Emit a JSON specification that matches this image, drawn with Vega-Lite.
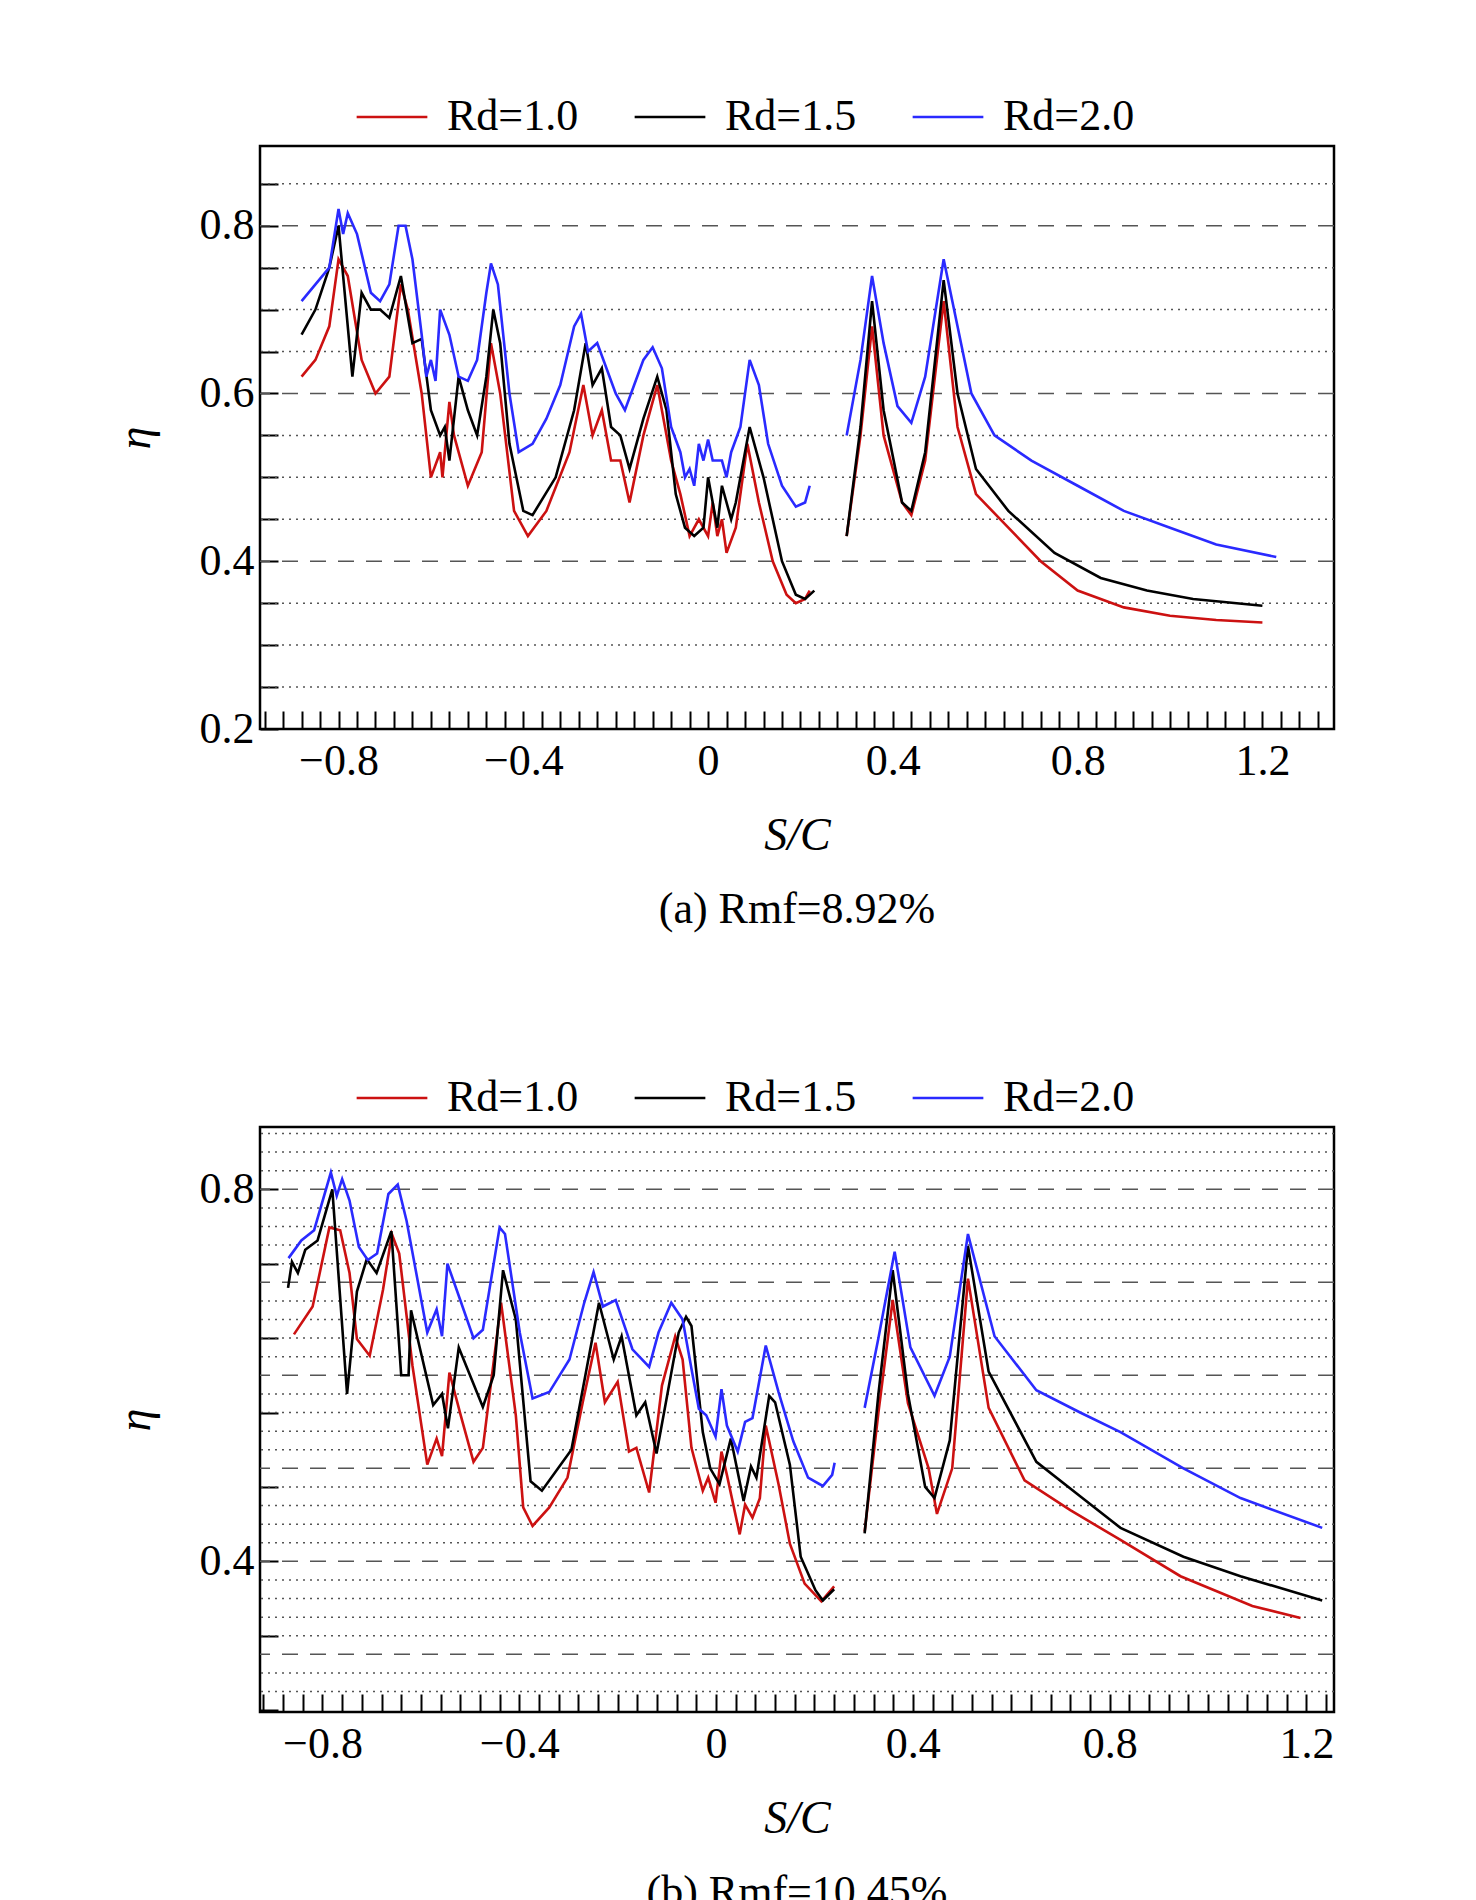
{
  "$schema": "https://vega.github.io/schema/vega-lite/v6.json",
  "background": "white",
  "padding": {"left": 110, "top": 78, "right": 10, "bottom": 5},
  "config": {
    "font": "Liberation Serif",
    "view": {"stroke": "black", "strokeWidth": 2.5},
    "axis": {"labelFont": "Liberation Serif", "titleFont": "Liberation Serif", "labelFontSize": 44, "titleFontSize": 46, "titleFontWeight": "normal", "titleFontStyle": "italic", "labelColor": "black", "titleColor": "black", "domain": false, "grid": false, "tickColor": "black", "tickWidth": 2},
    "legend": {"labelFont": "Liberation Serif", "labelFontSize": 44, "labelColor": "black", "symbolType": "stroke", "symbolSize": 5000, "symbolStrokeWidth": 2.5, "columnPadding": 50, "labelOffset": 18},
    "title": {"font": "Liberation Serif", "fontSize": 44, "fontWeight": "normal", "color": "black"}
  },
  "datasets": {
    "curves": [
      {"p":"a","s":"1.0","k":1,"x":-0.88,"y":0.62},{"p":"a","s":"1.0","k":1,"x":-0.85,"y":0.64},{"p":"a","s":"1.0","k":1,"x":-0.82,"y":0.68},{"p":"a","s":"1.0","k":1,"x":-0.8,"y":0.76},{"p":"a","s":"1.0","k":1,"x":-0.78,"y":0.74},{"p":"a","s":"1.0","k":1,"x":-0.75,"y":0.64},{"p":"a","s":"1.0","k":1,"x":-0.72,"y":0.6},{"p":"a","s":"1.0","k":1,"x":-0.69,"y":0.62},{"p":"a","s":"1.0","k":1,"x":-0.665,"y":0.73},{"p":"a","s":"1.0","k":1,"x":-0.65,"y":0.7},{"p":"a","s":"1.0","k":1,"x":-0.62,"y":0.6},{"p":"a","s":"1.0","k":1,"x":-0.6,"y":0.5},{"p":"a","s":"1.0","k":1,"x":-0.58,"y":0.53},{"p":"a","s":"1.0","k":1,"x":-0.575,"y":0.5},{"p":"a","s":"1.0","k":1,"x":-0.56,"y":0.59},{"p":"a","s":"1.0","k":1,"x":-0.55,"y":0.55},{"p":"a","s":"1.0","k":1,"x":-0.52,"y":0.49},{"p":"a","s":"1.0","k":1,"x":-0.49,"y":0.53},{"p":"a","s":"1.0","k":1,"x":-0.47,"y":0.66},{"p":"a","s":"1.0","k":1,"x":-0.45,"y":0.6},{"p":"a","s":"1.0","k":1,"x":-0.42,"y":0.46},{"p":"a","s":"1.0","k":1,"x":-0.39,"y":0.43},{"p":"a","s":"1.0","k":1,"x":-0.35,"y":0.46},{"p":"a","s":"1.0","k":1,"x":-0.3,"y":0.53},{"p":"a","s":"1.0","k":1,"x":-0.27,"y":0.61},{"p":"a","s":"1.0","k":1,"x":-0.25,"y":0.55},{"p":"a","s":"1.0","k":1,"x":-0.23,"y":0.58},{"p":"a","s":"1.0","k":1,"x":-0.21,"y":0.52},{"p":"a","s":"1.0","k":1,"x":-0.19,"y":0.52},{"p":"a","s":"1.0","k":1,"x":-0.17,"y":0.47},{"p":"a","s":"1.0","k":1,"x":-0.14,"y":0.55},{"p":"a","s":"1.0","k":1,"x":-0.11,"y":0.61},{"p":"a","s":"1.0","k":1,"x":-0.08,"y":0.52},{"p":"a","s":"1.0","k":1,"x":-0.06,"y":0.48},{"p":"a","s":"1.0","k":1,"x":-0.04,"y":0.43},{"p":"a","s":"1.0","k":1,"x":-0.02,"y":0.45},{"p":"a","s":"1.0","k":1,"x":0.0,"y":0.43},{"p":"a","s":"1.0","k":1,"x":0.01,"y":0.47},{"p":"a","s":"1.0","k":1,"x":0.02,"y":0.43},{"p":"a","s":"1.0","k":1,"x":0.03,"y":0.45},{"p":"a","s":"1.0","k":1,"x":0.04,"y":0.41},{"p":"a","s":"1.0","k":1,"x":0.06,"y":0.44},{"p":"a","s":"1.0","k":1,"x":0.085,"y":0.54},{"p":"a","s":"1.0","k":1,"x":0.11,"y":0.47},{"p":"a","s":"1.0","k":1,"x":0.14,"y":0.4},{"p":"a","s":"1.0","k":1,"x":0.17,"y":0.36},{"p":"a","s":"1.0","k":1,"x":0.19,"y":0.35},{"p":"a","s":"1.0","k":1,"x":0.21,"y":0.355},{"p":"a","s":"1.0","k":1,"x":0.22,"y":0.365},
      {"p":"a","s":"1.0","k":2,"x":0.3,"y":0.43},{"p":"a","s":"1.0","k":2,"x":0.33,"y":0.55},{"p":"a","s":"1.0","k":2,"x":0.355,"y":0.68},{"p":"a","s":"1.0","k":2,"x":0.38,"y":0.55},{"p":"a","s":"1.0","k":2,"x":0.42,"y":0.47},{"p":"a","s":"1.0","k":2,"x":0.44,"y":0.455},{"p":"a","s":"1.0","k":2,"x":0.47,"y":0.52},{"p":"a","s":"1.0","k":2,"x":0.51,"y":0.71},{"p":"a","s":"1.0","k":2,"x":0.54,"y":0.56},{"p":"a","s":"1.0","k":2,"x":0.58,"y":0.48},{"p":"a","s":"1.0","k":2,"x":0.65,"y":0.44},{"p":"a","s":"1.0","k":2,"x":0.72,"y":0.4},{"p":"a","s":"1.0","k":2,"x":0.8,"y":0.365},{"p":"a","s":"1.0","k":2,"x":0.9,"y":0.345},{"p":"a","s":"1.0","k":2,"x":1.0,"y":0.335},{"p":"a","s":"1.0","k":2,"x":1.1,"y":0.33},{"p":"a","s":"1.0","k":2,"x":1.2,"y":0.327},
      {"p":"a","s":"1.5","k":1,"x":-0.88,"y":0.67},{"p":"a","s":"1.5","k":1,"x":-0.85,"y":0.7},{"p":"a","s":"1.5","k":1,"x":-0.82,"y":0.75},{"p":"a","s":"1.5","k":1,"x":-0.8,"y":0.8},{"p":"a","s":"1.5","k":1,"x":-0.79,"y":0.74},{"p":"a","s":"1.5","k":1,"x":-0.77,"y":0.62},{"p":"a","s":"1.5","k":1,"x":-0.75,"y":0.72},{"p":"a","s":"1.5","k":1,"x":-0.73,"y":0.7},{"p":"a","s":"1.5","k":1,"x":-0.71,"y":0.7},{"p":"a","s":"1.5","k":1,"x":-0.69,"y":0.69},{"p":"a","s":"1.5","k":1,"x":-0.665,"y":0.74},{"p":"a","s":"1.5","k":1,"x":-0.64,"y":0.66},{"p":"a","s":"1.5","k":1,"x":-0.62,"y":0.665},{"p":"a","s":"1.5","k":1,"x":-0.6,"y":0.58},{"p":"a","s":"1.5","k":1,"x":-0.58,"y":0.55},{"p":"a","s":"1.5","k":1,"x":-0.57,"y":0.56},{"p":"a","s":"1.5","k":1,"x":-0.56,"y":0.52},{"p":"a","s":"1.5","k":1,"x":-0.54,"y":0.62},{"p":"a","s":"1.5","k":1,"x":-0.52,"y":0.58},{"p":"a","s":"1.5","k":1,"x":-0.5,"y":0.55},{"p":"a","s":"1.5","k":1,"x":-0.48,"y":0.62},{"p":"a","s":"1.5","k":1,"x":-0.465,"y":0.7},{"p":"a","s":"1.5","k":1,"x":-0.45,"y":0.66},{"p":"a","s":"1.5","k":1,"x":-0.43,"y":0.54},{"p":"a","s":"1.5","k":1,"x":-0.4,"y":0.46},{"p":"a","s":"1.5","k":1,"x":-0.38,"y":0.455},{"p":"a","s":"1.5","k":1,"x":-0.33,"y":0.5},{"p":"a","s":"1.5","k":1,"x":-0.29,"y":0.58},{"p":"a","s":"1.5","k":1,"x":-0.265,"y":0.66},{"p":"a","s":"1.5","k":1,"x":-0.25,"y":0.61},{"p":"a","s":"1.5","k":1,"x":-0.23,"y":0.63},{"p":"a","s":"1.5","k":1,"x":-0.21,"y":0.56},{"p":"a","s":"1.5","k":1,"x":-0.19,"y":0.55},{"p":"a","s":"1.5","k":1,"x":-0.17,"y":0.51},{"p":"a","s":"1.5","k":1,"x":-0.14,"y":0.57},{"p":"a","s":"1.5","k":1,"x":-0.11,"y":0.62},{"p":"a","s":"1.5","k":1,"x":-0.09,"y":0.58},{"p":"a","s":"1.5","k":1,"x":-0.07,"y":0.48},{"p":"a","s":"1.5","k":1,"x":-0.05,"y":0.44},{"p":"a","s":"1.5","k":1,"x":-0.03,"y":0.43},{"p":"a","s":"1.5","k":1,"x":-0.01,"y":0.44},{"p":"a","s":"1.5","k":1,"x":0.0,"y":0.5},{"p":"a","s":"1.5","k":1,"x":0.02,"y":0.44},{"p":"a","s":"1.5","k":1,"x":0.03,"y":0.49},{"p":"a","s":"1.5","k":1,"x":0.05,"y":0.45},{"p":"a","s":"1.5","k":1,"x":0.06,"y":0.47},{"p":"a","s":"1.5","k":1,"x":0.09,"y":0.56},{"p":"a","s":"1.5","k":1,"x":0.12,"y":0.5},{"p":"a","s":"1.5","k":1,"x":0.16,"y":0.4},{"p":"a","s":"1.5","k":1,"x":0.19,"y":0.36},{"p":"a","s":"1.5","k":1,"x":0.21,"y":0.355},{"p":"a","s":"1.5","k":1,"x":0.23,"y":0.365},
      {"p":"a","s":"1.5","k":2,"x":0.3,"y":0.43},{"p":"a","s":"1.5","k":2,"x":0.33,"y":0.56},{"p":"a","s":"1.5","k":2,"x":0.355,"y":0.71},{"p":"a","s":"1.5","k":2,"x":0.38,"y":0.58},{"p":"a","s":"1.5","k":2,"x":0.42,"y":0.47},{"p":"a","s":"1.5","k":2,"x":0.44,"y":0.46},{"p":"a","s":"1.5","k":2,"x":0.47,"y":0.53},{"p":"a","s":"1.5","k":2,"x":0.51,"y":0.735},{"p":"a","s":"1.5","k":2,"x":0.54,"y":0.6},{"p":"a","s":"1.5","k":2,"x":0.58,"y":0.51},{"p":"a","s":"1.5","k":2,"x":0.65,"y":0.46},{"p":"a","s":"1.5","k":2,"x":0.75,"y":0.41},{"p":"a","s":"1.5","k":2,"x":0.85,"y":0.38},{"p":"a","s":"1.5","k":2,"x":0.95,"y":0.365},{"p":"a","s":"1.5","k":2,"x":1.05,"y":0.355},{"p":"a","s":"1.5","k":2,"x":1.2,"y":0.347},
      {"p":"a","s":"2.0","k":1,"x":-0.88,"y":0.71},{"p":"a","s":"2.0","k":1,"x":-0.85,"y":0.73},{"p":"a","s":"2.0","k":1,"x":-0.82,"y":0.75},{"p":"a","s":"2.0","k":1,"x":-0.8,"y":0.82},{"p":"a","s":"2.0","k":1,"x":-0.79,"y":0.79},{"p":"a","s":"2.0","k":1,"x":-0.78,"y":0.815},{"p":"a","s":"2.0","k":1,"x":-0.76,"y":0.79},{"p":"a","s":"2.0","k":1,"x":-0.73,"y":0.72},{"p":"a","s":"2.0","k":1,"x":-0.71,"y":0.71},{"p":"a","s":"2.0","k":1,"x":-0.69,"y":0.73},{"p":"a","s":"2.0","k":1,"x":-0.67,"y":0.8},{"p":"a","s":"2.0","k":1,"x":-0.655,"y":0.8},{"p":"a","s":"2.0","k":1,"x":-0.64,"y":0.76},{"p":"a","s":"2.0","k":1,"x":-0.62,"y":0.67},{"p":"a","s":"2.0","k":1,"x":-0.61,"y":0.62},{"p":"a","s":"2.0","k":1,"x":-0.6,"y":0.64},{"p":"a","s":"2.0","k":1,"x":-0.59,"y":0.615},{"p":"a","s":"2.0","k":1,"x":-0.58,"y":0.7},{"p":"a","s":"2.0","k":1,"x":-0.56,"y":0.67},{"p":"a","s":"2.0","k":1,"x":-0.54,"y":0.62},{"p":"a","s":"2.0","k":1,"x":-0.52,"y":0.615},{"p":"a","s":"2.0","k":1,"x":-0.5,"y":0.64},{"p":"a","s":"2.0","k":1,"x":-0.48,"y":0.72},{"p":"a","s":"2.0","k":1,"x":-0.47,"y":0.755},{"p":"a","s":"2.0","k":1,"x":-0.455,"y":0.73},{"p":"a","s":"2.0","k":1,"x":-0.43,"y":0.6},{"p":"a","s":"2.0","k":1,"x":-0.41,"y":0.53},{"p":"a","s":"2.0","k":1,"x":-0.38,"y":0.54},{"p":"a","s":"2.0","k":1,"x":-0.35,"y":0.57},{"p":"a","s":"2.0","k":1,"x":-0.32,"y":0.61},{"p":"a","s":"2.0","k":1,"x":-0.29,"y":0.68},{"p":"a","s":"2.0","k":1,"x":-0.275,"y":0.695},{"p":"a","s":"2.0","k":1,"x":-0.26,"y":0.65},{"p":"a","s":"2.0","k":1,"x":-0.24,"y":0.66},{"p":"a","s":"2.0","k":1,"x":-0.22,"y":0.63},{"p":"a","s":"2.0","k":1,"x":-0.2,"y":0.6},{"p":"a","s":"2.0","k":1,"x":-0.18,"y":0.58},{"p":"a","s":"2.0","k":1,"x":-0.16,"y":0.61},{"p":"a","s":"2.0","k":1,"x":-0.14,"y":0.64},{"p":"a","s":"2.0","k":1,"x":-0.12,"y":0.655},{"p":"a","s":"2.0","k":1,"x":-0.1,"y":0.63},{"p":"a","s":"2.0","k":1,"x":-0.08,"y":0.56},{"p":"a","s":"2.0","k":1,"x":-0.06,"y":0.53},{"p":"a","s":"2.0","k":1,"x":-0.05,"y":0.5},{"p":"a","s":"2.0","k":1,"x":-0.04,"y":0.51},{"p":"a","s":"2.0","k":1,"x":-0.03,"y":0.49},{"p":"a","s":"2.0","k":1,"x":-0.02,"y":0.54},{"p":"a","s":"2.0","k":1,"x":-0.01,"y":0.52},{"p":"a","s":"2.0","k":1,"x":0.0,"y":0.545},{"p":"a","s":"2.0","k":1,"x":0.01,"y":0.52},{"p":"a","s":"2.0","k":1,"x":0.03,"y":0.52},{"p":"a","s":"2.0","k":1,"x":0.04,"y":0.5},{"p":"a","s":"2.0","k":1,"x":0.05,"y":0.53},{"p":"a","s":"2.0","k":1,"x":0.07,"y":0.56},{"p":"a","s":"2.0","k":1,"x":0.09,"y":0.64},{"p":"a","s":"2.0","k":1,"x":0.11,"y":0.61},{"p":"a","s":"2.0","k":1,"x":0.13,"y":0.54},{"p":"a","s":"2.0","k":1,"x":0.16,"y":0.49},{"p":"a","s":"2.0","k":1,"x":0.19,"y":0.465},{"p":"a","s":"2.0","k":1,"x":0.21,"y":0.47},{"p":"a","s":"2.0","k":1,"x":0.22,"y":0.49},
      {"p":"a","s":"2.0","k":2,"x":0.3,"y":0.55},{"p":"a","s":"2.0","k":2,"x":0.33,"y":0.64},{"p":"a","s":"2.0","k":2,"x":0.355,"y":0.74},{"p":"a","s":"2.0","k":2,"x":0.38,"y":0.66},{"p":"a","s":"2.0","k":2,"x":0.41,"y":0.585},{"p":"a","s":"2.0","k":2,"x":0.44,"y":0.565},{"p":"a","s":"2.0","k":2,"x":0.47,"y":0.62},{"p":"a","s":"2.0","k":2,"x":0.51,"y":0.76},{"p":"a","s":"2.0","k":2,"x":0.54,"y":0.68},{"p":"a","s":"2.0","k":2,"x":0.57,"y":0.6},{"p":"a","s":"2.0","k":2,"x":0.62,"y":0.55},{"p":"a","s":"2.0","k":2,"x":0.7,"y":0.52},{"p":"a","s":"2.0","k":2,"x":0.8,"y":0.49},{"p":"a","s":"2.0","k":2,"x":0.9,"y":0.46},{"p":"a","s":"2.0","k":2,"x":1.0,"y":0.44},{"p":"a","s":"2.0","k":2,"x":1.1,"y":0.42},{"p":"a","s":"2.0","k":2,"x":1.23,"y":0.405},
      {"p":"b","s":"1.0","k":1,"x":-0.858,"y":0.644},{"p":"b","s":"1.0","k":1,"x":-0.82,"y":0.674},{"p":"b","s":"1.0","k":1,"x":-0.786,"y":0.759},{"p":"b","s":"1.0","k":1,"x":-0.764,"y":0.756},{"p":"b","s":"1.0","k":1,"x":-0.745,"y":0.71},{"p":"b","s":"1.0","k":1,"x":-0.73,"y":0.639},{"p":"b","s":"1.0","k":1,"x":-0.704,"y":0.621},{"p":"b","s":"1.0","k":1,"x":-0.677,"y":0.692},{"p":"b","s":"1.0","k":1,"x":-0.659,"y":0.752},{"p":"b","s":"1.0","k":1,"x":-0.644,"y":0.731},{"p":"b","s":"1.0","k":1,"x":-0.617,"y":0.61},{"p":"b","s":"1.0","k":1,"x":-0.587,"y":0.504},{"p":"b","s":"1.0","k":1,"x":-0.568,"y":0.532},{"p":"b","s":"1.0","k":1,"x":-0.557,"y":0.513},{"p":"b","s":"1.0","k":1,"x":-0.542,"y":0.603},{"p":"b","s":"1.0","k":1,"x":-0.519,"y":0.557},{"p":"b","s":"1.0","k":1,"x":-0.493,"y":0.507},{"p":"b","s":"1.0","k":1,"x":-0.474,"y":0.522},{"p":"b","s":"1.0","k":1,"x":-0.437,"y":0.678},{"p":"b","s":"1.0","k":1,"x":-0.407,"y":0.557},{"p":"b","s":"1.0","k":1,"x":-0.392,"y":0.458},{"p":"b","s":"1.0","k":1,"x":-0.373,"y":0.438},{"p":"b","s":"1.0","k":1,"x":-0.339,"y":0.458},{"p":"b","s":"1.0","k":1,"x":-0.302,"y":0.49},{"p":"b","s":"1.0","k":1,"x":-0.271,"y":0.571},{"p":"b","s":"1.0","k":1,"x":-0.245,"y":0.635},{"p":"b","s":"1.0","k":1,"x":-0.226,"y":0.571},{"p":"b","s":"1.0","k":1,"x":-0.2,"y":0.593},{"p":"b","s":"1.0","k":1,"x":-0.177,"y":0.518},{"p":"b","s":"1.0","k":1,"x":-0.162,"y":0.522},{"p":"b","s":"1.0","k":1,"x":-0.136,"y":0.474},{"p":"b","s":"1.0","k":1,"x":-0.11,"y":0.589},{"p":"b","s":"1.0","k":1,"x":-0.083,"y":0.642},{"p":"b","s":"1.0","k":1,"x":-0.068,"y":0.617},{"p":"b","s":"1.0","k":1,"x":-0.05,"y":0.522},{"p":"b","s":"1.0","k":1,"x":-0.027,"y":0.476},{"p":"b","s":"1.0","k":1,"x":-0.016,"y":0.49},{"p":"b","s":"1.0","k":1,"x":-0.001,"y":0.463},{"p":"b","s":"1.0","k":1,"x":0.011,"y":0.518},{"p":"b","s":"1.0","k":1,"x":0.022,"y":0.493},{"p":"b","s":"1.0","k":1,"x":0.048,"y":0.429},{"p":"b","s":"1.0","k":1,"x":0.059,"y":0.461},{"p":"b","s":"1.0","k":1,"x":0.074,"y":0.447},{"p":"b","s":"1.0","k":1,"x":0.089,"y":0.468},{"p":"b","s":"1.0","k":1,"x":0.101,"y":0.546},{"p":"b","s":"1.0","k":1,"x":0.127,"y":0.483},{"p":"b","s":"1.0","k":1,"x":0.15,"y":0.419},{"p":"b","s":"1.0","k":1,"x":0.18,"y":0.376},{"p":"b","s":"1.0","k":1,"x":0.214,"y":0.357},{"p":"b","s":"1.0","k":1,"x":0.24,"y":0.373},
      {"p":"b","s":"1.0","k":2,"x":0.302,"y":0.432},{"p":"b","s":"1.0","k":2,"x":0.33,"y":0.56},{"p":"b","s":"1.0","k":2,"x":0.359,"y":0.681},{"p":"b","s":"1.0","k":2,"x":0.39,"y":0.57},{"p":"b","s":"1.0","k":2,"x":0.432,"y":0.5},{"p":"b","s":"1.0","k":2,"x":0.449,"y":0.451},{"p":"b","s":"1.0","k":2,"x":0.48,"y":0.5},{"p":"b","s":"1.0","k":2,"x":0.512,"y":0.704},{"p":"b","s":"1.0","k":2,"x":0.554,"y":0.565},{"p":"b","s":"1.0","k":2,"x":0.627,"y":0.487},{"p":"b","s":"1.0","k":2,"x":0.72,"y":0.455},{"p":"b","s":"1.0","k":2,"x":0.822,"y":0.423},{"p":"b","s":"1.0","k":2,"x":0.944,"y":0.384},{"p":"b","s":"1.0","k":2,"x":1.09,"y":0.352},{"p":"b","s":"1.0","k":2,"x":1.188,"y":0.339},
      {"p":"b","s":"1.5","k":1,"x":-0.87,"y":0.694},{"p":"b","s":"1.5","k":1,"x":-0.862,"y":0.722},{"p":"b","s":"1.5","k":1,"x":-0.85,"y":0.71},{"p":"b","s":"1.5","k":1,"x":-0.835,"y":0.735},{"p":"b","s":"1.5","k":1,"x":-0.81,"y":0.745},{"p":"b","s":"1.5","k":1,"x":-0.78,"y":0.8},{"p":"b","s":"1.5","k":1,"x":-0.75,"y":0.58},{"p":"b","s":"1.5","k":1,"x":-0.73,"y":0.69},{"p":"b","s":"1.5","k":1,"x":-0.71,"y":0.725},{"p":"b","s":"1.5","k":1,"x":-0.69,"y":0.71},{"p":"b","s":"1.5","k":1,"x":-0.66,"y":0.755},{"p":"b","s":"1.5","k":1,"x":-0.64,"y":0.6},{"p":"b","s":"1.5","k":1,"x":-0.625,"y":0.6},{"p":"b","s":"1.5","k":1,"x":-0.62,"y":0.67},{"p":"b","s":"1.5","k":1,"x":-0.575,"y":0.568},{"p":"b","s":"1.5","k":1,"x":-0.557,"y":0.58},{"p":"b","s":"1.5","k":1,"x":-0.545,"y":0.543},{"p":"b","s":"1.5","k":1,"x":-0.523,"y":0.63},{"p":"b","s":"1.5","k":1,"x":-0.474,"y":0.566},{"p":"b","s":"1.5","k":1,"x":-0.452,"y":0.6},{"p":"b","s":"1.5","k":1,"x":-0.433,"y":0.713},{"p":"b","s":"1.5","k":1,"x":-0.407,"y":0.66},{"p":"b","s":"1.5","k":1,"x":-0.377,"y":0.486},{"p":"b","s":"1.5","k":1,"x":-0.354,"y":0.476},{"p":"b","s":"1.5","k":1,"x":-0.294,"y":0.52},{"p":"b","s":"1.5","k":1,"x":-0.238,"y":0.678},{"p":"b","s":"1.5","k":1,"x":-0.208,"y":0.617},{"p":"b","s":"1.5","k":1,"x":-0.192,"y":0.642},{"p":"b","s":"1.5","k":1,"x":-0.162,"y":0.557},{"p":"b","s":"1.5","k":1,"x":-0.144,"y":0.571},{"p":"b","s":"1.5","k":1,"x":-0.121,"y":0.516},{"p":"b","s":"1.5","k":1,"x":-0.076,"y":0.646},{"p":"b","s":"1.5","k":1,"x":-0.061,"y":0.663},{"p":"b","s":"1.5","k":1,"x":-0.05,"y":0.653},{"p":"b","s":"1.5","k":1,"x":-0.027,"y":0.539},{"p":"b","s":"1.5","k":1,"x":-0.012,"y":0.5},{"p":"b","s":"1.5","k":1,"x":0.007,"y":0.483},{"p":"b","s":"1.5","k":1,"x":0.03,"y":0.532},{"p":"b","s":"1.5","k":1,"x":0.056,"y":0.465},{"p":"b","s":"1.5","k":1,"x":0.071,"y":0.502},{"p":"b","s":"1.5","k":1,"x":0.082,"y":0.49},{"p":"b","s":"1.5","k":1,"x":0.108,"y":0.578},{"p":"b","s":"1.5","k":1,"x":0.12,"y":0.571},{"p":"b","s":"1.5","k":1,"x":0.15,"y":0.504},{"p":"b","s":"1.5","k":1,"x":0.172,"y":0.405},{"p":"b","s":"1.5","k":1,"x":0.202,"y":0.369},{"p":"b","s":"1.5","k":1,"x":0.217,"y":0.358},{"p":"b","s":"1.5","k":1,"x":0.24,"y":0.37},
      {"p":"b","s":"1.5","k":2,"x":0.302,"y":0.43},{"p":"b","s":"1.5","k":2,"x":0.33,"y":0.58},{"p":"b","s":"1.5","k":2,"x":0.359,"y":0.713},{"p":"b","s":"1.5","k":2,"x":0.39,"y":0.58},{"p":"b","s":"1.5","k":2,"x":0.425,"y":0.48},{"p":"b","s":"1.5","k":2,"x":0.444,"y":0.468},{"p":"b","s":"1.5","k":2,"x":0.475,"y":0.53},{"p":"b","s":"1.5","k":2,"x":0.512,"y":0.739},{"p":"b","s":"1.5","k":2,"x":0.554,"y":0.604},{"p":"b","s":"1.5","k":2,"x":0.651,"y":0.507},{"p":"b","s":"1.5","k":2,"x":0.74,"y":0.47},{"p":"b","s":"1.5","k":2,"x":0.822,"y":0.436},{"p":"b","s":"1.5","k":2,"x":0.95,"y":0.405},{"p":"b","s":"1.5","k":2,"x":1.066,"y":0.384},{"p":"b","s":"1.5","k":2,"x":1.232,"y":0.358},
      {"p":"b","s":"2.0","k":1,"x":-0.869,"y":0.726},{"p":"b","s":"2.0","k":1,"x":-0.843,"y":0.745},{"p":"b","s":"2.0","k":1,"x":-0.817,"y":0.756},{"p":"b","s":"2.0","k":1,"x":-0.783,"y":0.818},{"p":"b","s":"2.0","k":1,"x":-0.771,"y":0.793},{"p":"b","s":"2.0","k":1,"x":-0.76,"y":0.811},{"p":"b","s":"2.0","k":1,"x":-0.745,"y":0.788},{"p":"b","s":"2.0","k":1,"x":-0.726,"y":0.738},{"p":"b","s":"2.0","k":1,"x":-0.708,"y":0.724},{"p":"b","s":"2.0","k":1,"x":-0.689,"y":0.731},{"p":"b","s":"2.0","k":1,"x":-0.666,"y":0.795},{"p":"b","s":"2.0","k":1,"x":-0.647,"y":0.805},{"p":"b","s":"2.0","k":1,"x":-0.629,"y":0.766},{"p":"b","s":"2.0","k":1,"x":-0.587,"y":0.646},{"p":"b","s":"2.0","k":1,"x":-0.568,"y":0.671},{"p":"b","s":"2.0","k":1,"x":-0.557,"y":0.642},{"p":"b","s":"2.0","k":1,"x":-0.546,"y":0.72},{"p":"b","s":"2.0","k":1,"x":-0.52,"y":0.681},{"p":"b","s":"2.0","k":1,"x":-0.493,"y":0.64},{"p":"b","s":"2.0","k":1,"x":-0.474,"y":0.649},{"p":"b","s":"2.0","k":1,"x":-0.44,"y":0.759},{"p":"b","s":"2.0","k":1,"x":-0.429,"y":0.752},{"p":"b","s":"2.0","k":1,"x":-0.399,"y":0.646},{"p":"b","s":"2.0","k":1,"x":-0.373,"y":0.575},{"p":"b","s":"2.0","k":1,"x":-0.339,"y":0.582},{"p":"b","s":"2.0","k":1,"x":-0.298,"y":0.617},{"p":"b","s":"2.0","k":1,"x":-0.268,"y":0.678},{"p":"b","s":"2.0","k":1,"x":-0.249,"y":0.711},{"p":"b","s":"2.0","k":1,"x":-0.23,"y":0.674},{"p":"b","s":"2.0","k":1,"x":-0.204,"y":0.681},{"p":"b","s":"2.0","k":1,"x":-0.17,"y":0.628},{"p":"b","s":"2.0","k":1,"x":-0.136,"y":0.609},{"p":"b","s":"2.0","k":1,"x":-0.117,"y":0.646},{"p":"b","s":"2.0","k":1,"x":-0.091,"y":0.678},{"p":"b","s":"2.0","k":1,"x":-0.068,"y":0.66},{"p":"b","s":"2.0","k":1,"x":-0.05,"y":0.607},{"p":"b","s":"2.0","k":1,"x":-0.035,"y":0.564},{"p":"b","s":"2.0","k":1,"x":-0.02,"y":0.557},{"p":"b","s":"2.0","k":1,"x":-0.001,"y":0.534},{"p":"b","s":"2.0","k":1,"x":0.011,"y":0.585},{"p":"b","s":"2.0","k":1,"x":0.022,"y":0.546},{"p":"b","s":"2.0","k":1,"x":0.044,"y":0.518},{"p":"b","s":"2.0","k":1,"x":0.059,"y":0.55},{"p":"b","s":"2.0","k":1,"x":0.074,"y":0.554},{"p":"b","s":"2.0","k":1,"x":0.101,"y":0.632},{"p":"b","s":"2.0","k":1,"x":0.127,"y":0.582},{"p":"b","s":"2.0","k":1,"x":0.157,"y":0.529},{"p":"b","s":"2.0","k":1,"x":0.187,"y":0.49},{"p":"b","s":"2.0","k":1,"x":0.217,"y":0.481},{"p":"b","s":"2.0","k":1,"x":0.236,"y":0.493},{"p":"b","s":"2.0","k":1,"x":0.241,"y":0.506},
      {"p":"b","s":"2.0","k":2,"x":0.302,"y":0.565},{"p":"b","s":"2.0","k":2,"x":0.33,"y":0.64},{"p":"b","s":"2.0","k":2,"x":0.363,"y":0.733},{"p":"b","s":"2.0","k":2,"x":0.395,"y":0.63},{"p":"b","s":"2.0","k":2,"x":0.444,"y":0.578},{"p":"b","s":"2.0","k":2,"x":0.475,"y":0.62},{"p":"b","s":"2.0","k":2,"x":0.512,"y":0.752},{"p":"b","s":"2.0","k":2,"x":0.566,"y":0.642},{"p":"b","s":"2.0","k":2,"x":0.651,"y":0.584},{"p":"b","s":"2.0","k":2,"x":0.74,"y":0.56},{"p":"b","s":"2.0","k":2,"x":0.822,"y":0.539},{"p":"b","s":"2.0","k":2,"x":0.95,"y":0.5},{"p":"b","s":"2.0","k":2,"x":1.066,"y":0.468},{"p":"b","s":"2.0","k":2,"x":1.232,"y":0.436}
    ],
    "gridA": [
      {"v":0.25,"m":0},{"v":0.3,"m":0},{"v":0.35,"m":0},{"v":0.4,"m":1},{"v":0.45,"m":0},{"v":0.5,"m":0},{"v":0.55,"m":0},{"v":0.6,"m":1},{"v":0.65,"m":0},{"v":0.7,"m":0},{"v":0.75,"m":0},{"v":0.8,"m":1},{"v":0.85,"m":0}
    ],
    "gridB": [
      {"v":0.26,"m":0},{"v":0.28,"m":0},{"v":0.3,"m":1},{"v":0.32,"m":0},{"v":0.34,"m":0},{"v":0.36,"m":0},{"v":0.38,"m":0},{"v":0.4,"m":1},{"v":0.42,"m":0},{"v":0.44,"m":0},{"v":0.46,"m":0},{"v":0.48,"m":0},{"v":0.5,"m":1},{"v":0.52,"m":0},{"v":0.54,"m":0},{"v":0.56,"m":0},{"v":0.58,"m":0},{"v":0.6,"m":1},{"v":0.62,"m":0},{"v":0.64,"m":0},{"v":0.66,"m":0},{"v":0.68,"m":0},{"v":0.7,"m":1},{"v":0.72,"m":0},{"v":0.74,"m":0},{"v":0.76,"m":0},{"v":0.78,"m":0},{"v":0.8,"m":1},{"v":0.82,"m":0},{"v":0.84,"m":0},{"v":0.86,"m":0}
    ]
  },
  "vconcat": [
    {
      "width": 1074,
      "height": 583,
      "title": {"text": "(a) Rmf=8.92%", "orient": "bottom", "offset": 30},
      "layer": [
        {
          "data": {"name": "gridA"},
          "mark": {"type": "rule", "color": "#555", "strokeWidth": 1.5},
          "encoding": {
            "y": {"field": "v", "type": "quantitative", "scale": {"domain": [0.2, 0.895], "nice": false, "zero": false}},
            "strokeDash": {"field": "m", "type": "nominal", "scale": {"domain": [0, 1], "range": [[2, 5], [16, 12]]}, "legend": null}
          }
        },
        {
          "data": {"name": "curves"},
          "transform": [{"filter": "datum.p == 'a'"}],
          "mark": {"type": "line", "strokeWidth": 2.6, "clip": true},
          "encoding": {
            "x": {"field": "x", "type": "quantitative", "title": "S/C",
              "scale": {"domain": [-0.97, 1.355], "nice": false, "zero": false},
              "axis": {"values": [-0.96,-0.92,-0.88,-0.84,-0.8,-0.76,-0.72,-0.68,-0.64,-0.6,-0.56,-0.52,-0.48,-0.44,-0.4,-0.36,-0.32,-0.28,-0.24,-0.2,-0.16,-0.12,-0.08,-0.04,0,0.04,0.08,0.12,0.16,0.2,0.24,0.28,0.32,0.36,0.4,0.44,0.48,0.52,0.56,0.6,0.64,0.68,0.72,0.76,0.8,0.84,0.88,0.92,0.96,1.0,1.04,1.08,1.12,1.16,1.2,1.24,1.28,1.32],
                "labelExpr": "abs(datum.value*10 - 4*round(datum.value*10/4)) < 0.01 ? format(datum.value, '~g') : ''",
                "tickSize": -18, "labelPadding": 28, "titlePadding": 30}},
            "y": {"field": "y", "type": "quantitative", "title": "η",
              "scale": {"domain": [0.2, 0.895], "nice": false, "zero": false},
              "axis": {"values": [0.2,0.25,0.3,0.35,0.4,0.45,0.5,0.55,0.6,0.65,0.7,0.75,0.8,0.85],
                "labelExpr": "abs(datum.value*10 - 2*round(datum.value*10/2)) < 0.01 ? format(datum.value, '.1f') : ''",
                "tickSize": -18, "labelPadding": 24, "titlePadding": 40}},
            "color": {"field": "s", "type": "nominal",
              "scale": {"domain": ["1.0", "1.5", "2.0"], "range": ["#cc1111", "#000000", "#2a2aff"]},
              "legend": {"orient": "none", "legendX": 95, "legendY": -66, "direction": "horizontal", "title": null, "labelExpr": "'Rd=' + datum.label"}},
            "detail": {"field": "k", "type": "nominal"}
          }
        }
      ]
    },
    {
      "width": 1074,
      "height": 585,
      "title": {"text": "(b) Rmf=10.45%", "orient": "bottom", "offset": 30},
      "layer": [
        {
          "data": {"name": "gridB"},
          "mark": {"type": "rule", "color": "#555", "strokeWidth": 1.5},
          "encoding": {
            "y": {"field": "v", "type": "quantitative", "scale": {"domain": [0.238, 0.867], "nice": false, "zero": false}},
            "strokeDash": {"field": "m", "type": "nominal", "scale": {"domain": [0, 1], "range": [[2, 5], [16, 12]]}, "legend": null}
          }
        },
        {
          "data": {"name": "curves"},
          "transform": [{"filter": "datum.p == 'b'"}],
          "mark": {"type": "line", "strokeWidth": 2.6, "clip": true},
          "encoding": {
            "x": {"field": "x", "type": "quantitative", "title": "S/C",
              "scale": {"domain": [-0.927, 1.256], "nice": false, "zero": false},
              "axis": {"values": [-0.92,-0.88,-0.84,-0.8,-0.76,-0.72,-0.68,-0.64,-0.6,-0.56,-0.52,-0.48,-0.44,-0.4,-0.36,-0.32,-0.28,-0.24,-0.2,-0.16,-0.12,-0.08,-0.04,0,0.04,0.08,0.12,0.16,0.2,0.24,0.28,0.32,0.36,0.4,0.44,0.48,0.52,0.56,0.6,0.64,0.68,0.72,0.76,0.8,0.84,0.88,0.92,0.96,1.0,1.04,1.08,1.12,1.16,1.2,1.24],
                "labelExpr": "abs(datum.value*10 - 4*round(datum.value*10/4)) < 0.01 ? format(datum.value, '~g') : ''",
                "tickSize": -18, "labelPadding": 28, "titlePadding": 30}},
            "y": {"field": "y", "type": "quantitative", "title": "η",
              "scale": {"domain": [0.238, 0.867], "nice": false, "zero": false},
              "axis": {"values": [0.24,0.26,0.28,0.3,0.32,0.34,0.36,0.38,0.4,0.42,0.44,0.46,0.48,0.5,0.52,0.54,0.56,0.58,0.6,0.62,0.64,0.66,0.68,0.7,0.72,0.74,0.76,0.78,0.8,0.82,0.84,0.86],
                "labelExpr": "abs(datum.value*10 - round(datum.value*10)) < 0.01 ? format(datum.value, '.1f') : ''",
                "tickSize": -18, "labelPadding": 24, "titlePadding": 40}},
            "color": {"field": "s", "type": "nominal",
              "scale": {"domain": ["1.0", "1.5", "2.0"], "range": ["#cc1111", "#000000", "#2a2aff"]},
              "legend": {"orient": "none", "legendX": 95, "legendY": -66, "direction": "horizontal", "title": null, "labelExpr": "'Rd=' + datum.label"}},
            "detail": {"field": "k", "type": "nominal"}
          }
        }
      ]
    }
  ],
  "spacing": 125,
  "resolve": {"scale": {"x": "independent", "y": "independent", "color": "independent"}, "legend": {"color": "independent"}}
}
